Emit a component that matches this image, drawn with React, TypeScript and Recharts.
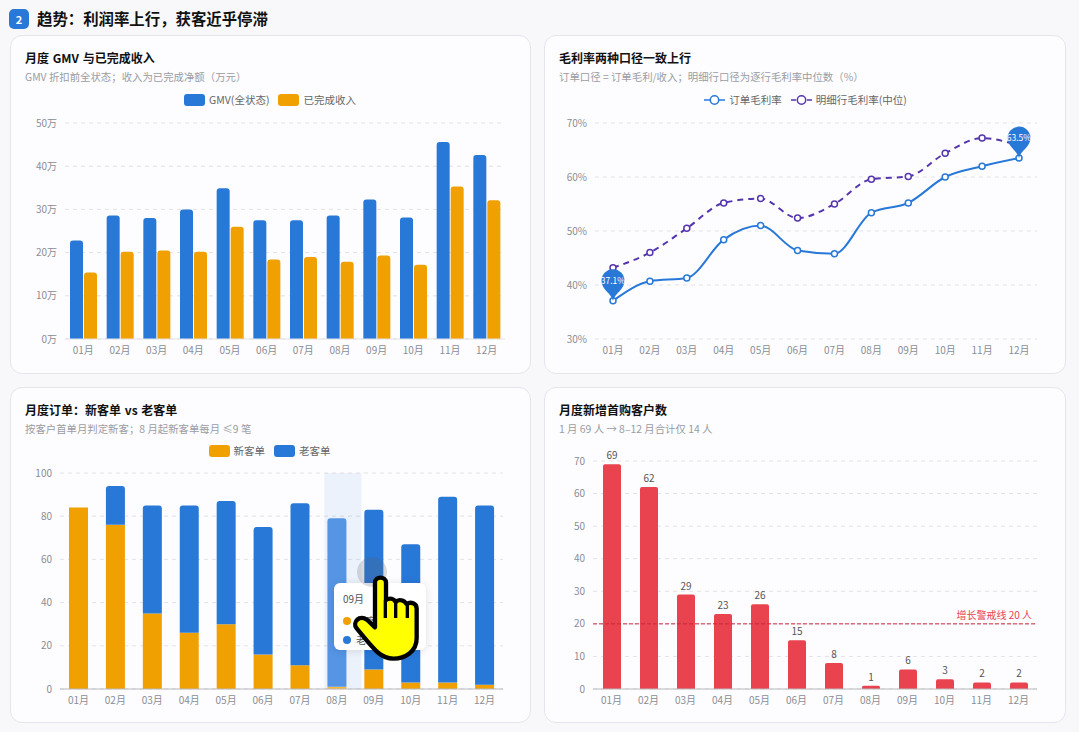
import React from 'react';
import {
  BarChart,
  Bar,
  Cell,
  LineChart,
  Line,
  XAxis,
  YAxis,
  CartesianGrid,
  Tooltip,
  Legend,
  LabelList,
  ReferenceLine
} from 'recharts';

const months = ['01月', '02月', '03月', '04月', '05月', '06月', '07月', '08月', '09月', '10月', '11月', '12月'];

// 万元
const gmv = [22.8, 28.6, 28, 30, 34.9, 27.5, 27.5, 28.6, 32.3, 28.1, 45.6, 42.6];
const revenue = [15.4, 20.2, 20.5, 20.2, 26, 18.4, 19, 17.9, 19.3, 17.2, 35.3, 32.1];

// %
const orderMargin = [37.1, 40.7, 41.3, 48.4, 51, 46.4, 45.8, 53.4, 55.2, 60, 62, 63.5];
const lineMargin = [43.2, 46, 50.5, 55.2, 56, 52.4, 55, 59.6, 60.1, 64.4, 67.2, 65.8];

const newOrders = [84, 76, 35, 26, 30, 16, 11, 1, 9, 3, 3, 2];
const oldOrders = [0, 18, 50, 59, 57, 59, 75, 78, 74, 64, 86, 83];

const newCustomers = [69, 62, 29, 23, 26, 15, 8, 1, 6, 3, 2, 2];

const gmvTicks = [0, 10, 20, 30, 40, 50];
const marginTicks = [30, 40, 50, 60, 70];
const orderTicks = [0, 20, 40, 60, 80, 100];
const customerTicks = [0, 10, 20, 30, 40, 50, 60, 70];

const BLUE = '#2878d8';
const ORANGE = '#f0a000';
const PURPLE = '#5535ae';
const RED = '#e8434f';
const FONT = '"Noto Sans CJK SC", "Noto Sans", sans-serif';

const tickStyle = { fontSize: 10, fill: '#8a8d94', fontFamily: FONT };
const gridProps = { vertical: false, stroke: '#e3e3e6', strokeDasharray: '4 4' };

const revenueData = months.map((m, i) => ({ month: m, gmv: gmv[i], revenue: revenue[i] }));
const marginData = months.map((m, i) => ({ month: m, order: orderMargin[i], line: lineMargin[i] }));
const orderData = months.map((m, i) => ({ month: m, fresh: newOrders[i], old: oldOrders[i] }));
const customerData = months.map((m, i) => ({ month: m, count: newCustomers[i] }));

const Card = ({ left, top, width, height, title, sub, children }: any) => (
  <div
    style={{
      position: 'absolute',
      left,
      top,
      width,
      height,
      boxSizing: 'border-box',
      background: '#fdfdff',
      border: '1px solid #e4e5ee',
      borderRadius: 12
    }}
  >
    <div style={{ position: 'absolute', left: 14, top: 13, fontSize: 12, wordSpacing: 1, fontWeight: 700, color: '#111', whiteSpace: 'nowrap' }}>
      {title}
    </div>
    <div style={{ position: 'absolute', left: 14, top: 33, fontSize: 10.4, color: '#9a9ca3', whiteSpace: 'nowrap' }}>{sub}</div>
    <div style={{ position: 'absolute', left: -1, top: -1 }}>{children}</div>
  </div>
);

const BarLegend = ({ payload }: any) => (
  <div style={{ display: 'flex', justifyContent: 'center', gap: 9, fontSize: 10.5, color: '#666', fontFamily: FONT, lineHeight: '12px' }}>
    {(payload || []).map((p: any) => (
      <span key={p.value} style={{ display: 'flex', alignItems: 'center', gap: 4 }}>
        <span style={{ width: 21, height: 12, borderRadius: 3, background: p.color }} />
        {p.value}
      </span>
    ))}
  </div>
);

const LineLegend = ({ payload }: any) => {
  const items = [...(payload || [])].sort((a: any, b: any) => (a.dataKey === 'order' ? -1 : b.dataKey === 'order' ? 1 : 0));
  return (
    <div style={{ display: 'flex', justifyContent: 'center', gap: 9, fontSize: 10.5, color: '#666', fontFamily: FONT, lineHeight: '12px' }}>
      {items.map((p: any) => (
        <span key={p.value} style={{ display: 'flex', alignItems: 'center', gap: 4 }}>
          <svg width={21} height={12}>
            <line x1={0} x2={21} y1={6} y2={6} stroke={p.color} strokeWidth={1.5} strokeDasharray={p.dataKey === 'line' ? '5 3' : undefined} />
            <circle cx={10.5} cy={6} r={4.2} fill="#fff" stroke={p.color} strokeWidth={1.5} />
          </svg>
          {p.value}
        </span>
      ))}
    </div>
  );
};

// first and last point of the order line carry a pin
const PinLabel = ({ x, y, index, value }: any) => {
  if (index !== 0 && index !== months.length - 1) return null;
  return (
    <g>
      <path
        d={`M${x} ${y} C${x - 2} ${y - 8} ${x - 11.5} ${y - 11} ${x - 11.5} ${y - 20} A11.5 11.5 0 1 1 ${x + 11.5} ${y - 20} C${x + 11.5} ${y - 11} ${x + 2} ${y - 8} ${x} ${y} Z`}
        fill={BLUE}
      />
      <text x={x} y={y - 17} textAnchor="middle" fontSize={8.5} fill="#fff" fontFamily={FONT}>
        {value}%
      </text>
    </g>
  );
};

// hover band behind the 08月 column
const HoverBand = (props: any) => {
  if (props.index !== 7) return null;
  const band = 37;
  return (
    <rect
      x={props.x + props.width / 2 - band / 2 + 6}
      y={props.y}
      width={band}
      height={props.height}
      fill="#2878d8"
      fillOpacity={0.08}
    />
  );
};

const OrderTip = ({ active, payload, label }: any) => {
  if (!active || !payload || !payload.length) return null;
  return (
    <div
      style={{
        width: 92,
        height: 67,
        boxSizing: 'border-box',
        padding: '8px 9px',
        background: '#fff',
        borderRadius: 6,
        boxShadow: '0 1px 8px rgba(0,0,0,.12)',
        fontSize: 10,
        color: '#555',
        fontFamily: FONT
      }}
    >
      <div style={{ marginBottom: 5 }}>{label}</div>
      {payload.map((p: any) => (
        <div key={p.name} style={{ display: 'flex', alignItems: 'center', gap: 5, height: 19 }}>
          <span style={{ width: 8, height: 8, borderRadius: 4, background: p.color }} />
          <span>{p.name}</span>
          <b style={{ marginLeft: 'auto' }}>{p.value}</b>
        </div>
      ))}
    </div>
  );
};

const HandCursor = () => (
  <svg width={240} height={250} viewBox="0 0 720 750" style={{ position: 'absolute', left: 280, top: 460, pointerEvents: 'none' }}>
    <path
      d="M285 368 C285 348 318 348 318 368 L318 420 C330 412 342 416 347 426 C356 416 372 420 380 432 C392 424 410 430 410 446 L410 535 C410 575 375 596 340 596 C300 596 280 565 230 505 C215 487 240 462 262 480 L285 502 Z"
      fill="#ffff00"
      stroke="#000"
      strokeWidth={13}
      strokeLinejoin="round"
    />
    <path d="M316 420 L316 474 M347 426 L347 474 M382 432 L382 474" stroke="#000" strokeWidth={10} fill="none" />
  </svg>
);

export default function App() {
  return (
    <div
      style={{
        position: 'absolute',
        left: 0,
        top: 0,
        width: 1079,
        height: 732,
        overflow: 'hidden',
        background: '#f8f8fb',
        fontFamily: FONT
      }}
    >
      <div
        style={{
          position: 'absolute',
          left: 9,
          top: 9,
          width: 20,
          height: 20,
          borderRadius: 5,
          background: BLUE,
          color: '#fff',
          fontSize: 11,
          fontWeight: 700,
          lineHeight: '20px',
          textAlign: 'center'
        }}
      >
        2
      </div>
      <div style={{ position: 'absolute', left: 37, top: 7, fontSize: 15.4, fontWeight: 700, color: '#111', whiteSpace: 'nowrap' }}>
        趋势：利润率上行，获客近乎停滞
      </div>

      <Card left={10} top={35} width={521} height={339} title="月度 GMV 与已完成收入" sub="GMV 折扣前全状态；收入为已完成净额（万元）">
        <BarChart width={521} height={339} data={revenueData} margin={{ top: 76, right: 26, bottom: 10, left: 5 }} barCategoryGap={5} barGap={1}>
          <CartesianGrid {...gridProps} />
          <XAxis dataKey="month" interval={0} tick={tickStyle} tickLine={false} axisLine={{ stroke: '#e3e3e6' }} height={25} />
          <YAxis domain={[0, 50]} ticks={gmvTicks} tick={tickStyle} tickFormatter={(v: number) => `${v}万`} tickLine={false} axisLine={false} width={50} />
          <Legend verticalAlign="top" content={<BarLegend />} wrapperStyle={{ top: 59, left: 15 }} />
          <Bar dataKey="gmv" name="GMV(全状态)" fill={BLUE} barSize={13} radius={[3, 3, 0, 0]} isAnimationActive={false} />
          <Bar dataKey="revenue" name="已完成收入" fill={ORANGE} barSize={13} radius={[3, 3, 0, 0]} isAnimationActive={false} />
        </BarChart>
      </Card>

      <Card left={544} top={35} width={522} height={339} title="毛利率两种口径一致上行" sub="订单口径 = 订单毛利/收入；明细行口径为逐行毛利率中位数（%）">
        <LineChart width={522} height={339} data={marginData} margin={{ top: 76, right: 29, bottom: 10, left: 0 }}>
          <CartesianGrid {...gridProps} />
          <XAxis dataKey="month" interval={0} tick={tickStyle} tickLine={false} axisLine={false} height={25} padding={{ left: 18, right: 18 }} />
          <YAxis domain={[30, 70]} ticks={marginTicks} tick={tickStyle} tickFormatter={(v: number) => `${v}%`} tickLine={false} axisLine={false} width={51} />
          <Legend verticalAlign="top" content={<LineLegend />} wrapperStyle={{ top: 59, left: 15 }} />
          <Line
            type="monotone"
            dataKey="line"
            name="明细行毛利率(中位)"
            stroke={PURPLE}
            strokeWidth={2}
            strokeDasharray="6 5"
            dot={{ r: 3, fill: '#fff', stroke: PURPLE, strokeWidth: 1.5, strokeDasharray: '' }}
            isAnimationActive={false}
          />
          <Line
            type="monotone"
            dataKey="order"
            name="订单毛利率"
            stroke={BLUE}
            strokeWidth={2}
            dot={{ r: 3, fill: '#fff', stroke: BLUE, strokeWidth: 1.5 }}
            label={<PinLabel />}
            isAnimationActive={false}
          />
        </LineChart>
      </Card>

      <Card left={10} top={387} width={521} height={336} title="月度订单：新客单 vs 老客单" sub="按客户首单月判定新客；8 月起新客单每月 ≤9 笔">
        <BarChart width={521} height={336} data={orderData} margin={{ top: 74, right: 28, bottom: 9, left: 0 }} barCategoryGap={8}>
          <CartesianGrid {...gridProps} />
          <XAxis dataKey="month" interval={0} tick={tickStyle} tickLine={false} axisLine={{ stroke: '#b9b9bd' }} height={25} />
          <YAxis domain={[0, 100]} ticks={orderTicks} tick={tickStyle} tickLine={false} axisLine={false} width={50} />
          <Legend verticalAlign="top" content={<BarLegend />} wrapperStyle={{ top: 58, left: 13 }} />
          <Tooltip defaultIndex={8} content={<OrderTip />} position={{ x: 324, y: 196 }} cursor={false} isAnimationActive={false} />
          <Bar dataKey="fresh" name="新客单" stackId="o" fill={ORANGE} barSize={19} background={<HoverBand />} isAnimationActive={false}>
            {months.map((m, i) => (
              <Cell key={m} fill={i === 7 ? '#f4b740' : ORANGE} />
            ))}
          </Bar>
          <Bar dataKey="old" name="老客单" stackId="o" fill={BLUE} barSize={19} radius={[3, 3, 0, 0]} isAnimationActive={false}>
            {months.map((m, i) => (
              <Cell key={m} fill={i === 7 ? '#5595e4' : BLUE} />
            ))}
          </Bar>
        </BarChart>
      </Card>

      <Card left={544} top={387} width={522} height={336} title="月度新增首购客户数" sub="1 月 69 人 → 8–12 月合计仅 14 人">
        <BarChart width={522} height={336} data={customerData} margin={{ top: 74, right: 29, bottom: 9, left: 0 }}>
          <CartesianGrid {...gridProps} />
          <XAxis dataKey="month" interval={0} tick={tickStyle} tickLine={false} axisLine={{ stroke: '#b9b9bd' }} height={25} />
          <YAxis domain={[0, 70]} ticks={customerTicks} tick={tickStyle} tickLine={false} axisLine={false} width={49} />
          <Bar dataKey="count" fill={RED} barSize={18} radius={[2, 2, 0, 0]} isAnimationActive={false}>
            <LabelList dataKey="count" position="top" style={{ fontSize: 10, fill: '#555', fontFamily: FONT }} />
          </Bar>
          <ReferenceLine
            y={20}
            stroke="#c8283c"
            strokeDasharray="4 2"
            label={{ value: '增长警戒线 20 人', position: 'insideBottomRight', fontSize: 10, fill: RED, fontFamily: FONT }}
          />
        </BarChart>
      </Card>

      <div style={{ position: 'absolute', left: 357, top: 557, width: 30, height: 30, borderRadius: 15, background: 'rgba(90,90,90,.22)' }} />
      <HandCursor />
    </div>
  );
}
